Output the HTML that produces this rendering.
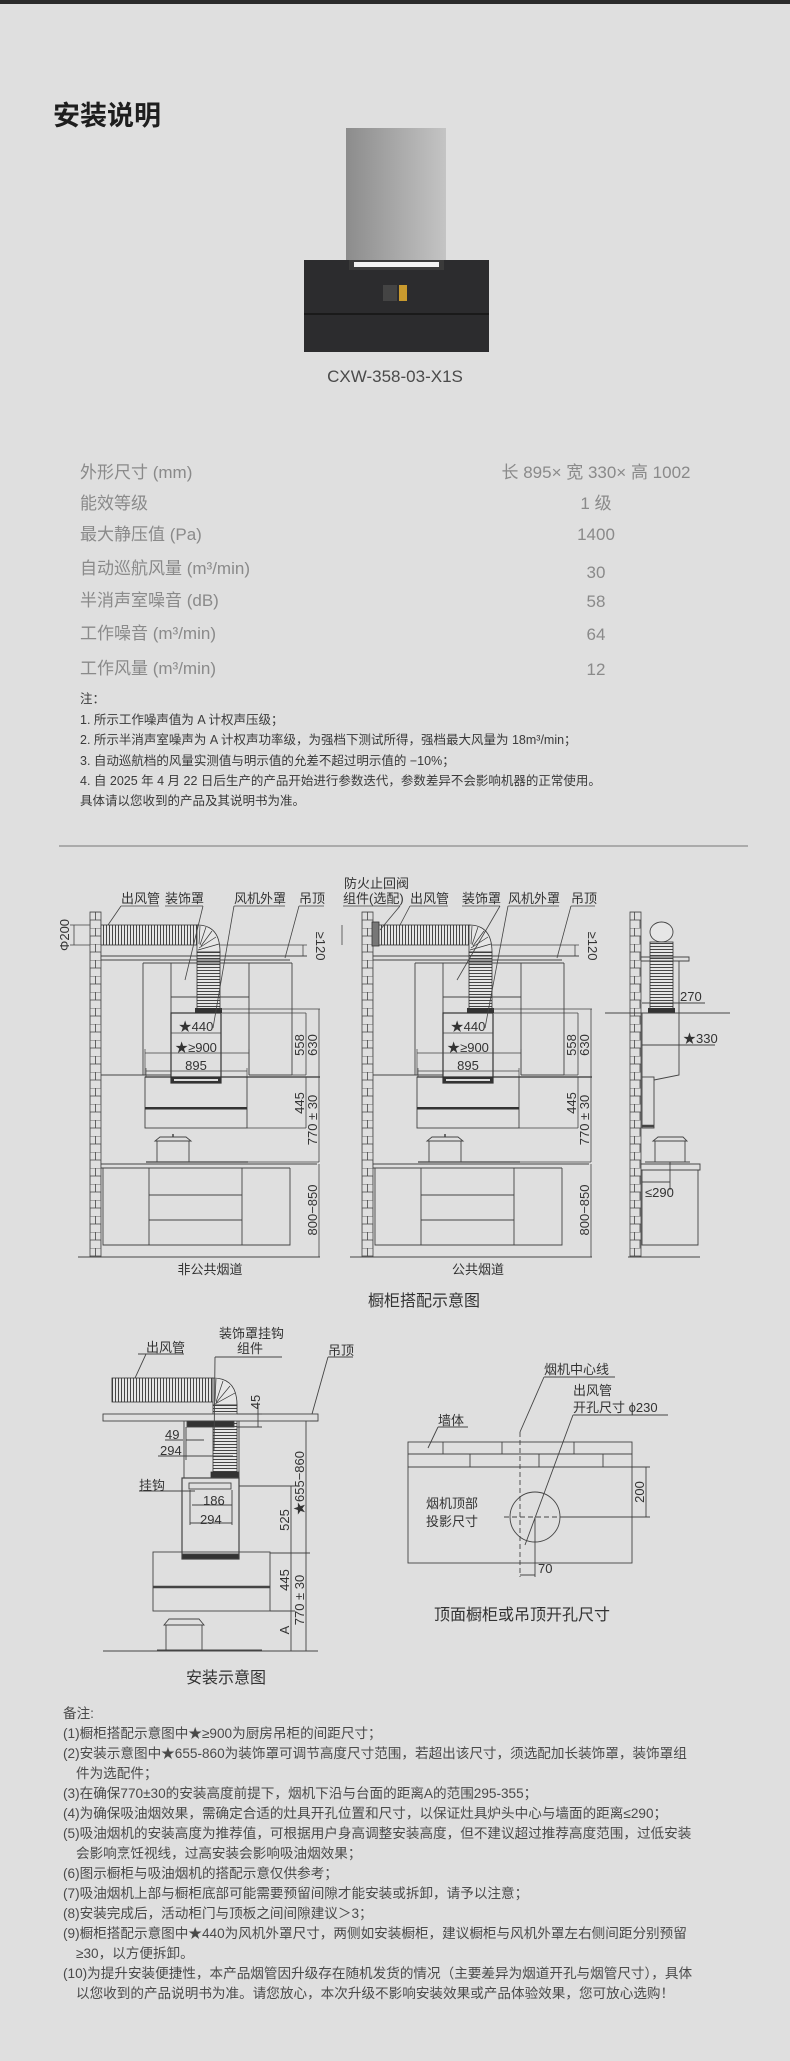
<!DOCTYPE html>
<html><head><meta charset="utf-8">
<style>
html,body{margin:0;padding:0;background:#dfdfdf;}
body{width:790px;height:2061px;position:relative;overflow:hidden;font-family:"Liberation Sans","Noto Sans CJK SC",sans-serif;}
svg{position:absolute;left:0;top:0;}
text{font-family:"Liberation Sans","Noto Sans CJK SC",sans-serif;}
</style></head><body>
<svg width="790" height="2061" viewBox="0 0 790 2061" xmlns="http://www.w3.org/2000/svg">
<defs>
<pattern id="brick" x="90" y="912" width="11" height="16" patternUnits="userSpaceOnUse">
<rect width="11" height="16" fill="#dfdfdf"/>
<path d="M0 0H11M0 8H11M5.5 0V8M0 8V16M11 8V16" stroke="#444" stroke-width="0.8" fill="none"/>
</pattern>
<pattern id="corrV" width="3" height="10" patternUnits="userSpaceOnUse">
<rect width="3" height="10" fill="#e6e6e6"/><path d="M1.5 0V10" stroke="#333" stroke-width="0.9"/>
</pattern>
<pattern id="corrH" width="10" height="3" patternUnits="userSpaceOnUse">
<rect width="10" height="3" fill="#e6e6e6"/><path d="M0 1.5H10" stroke="#333" stroke-width="0.9"/>
</pattern>
<linearGradient id="steel" x1="0" x2="1" y1="0" y2="0">
<stop offset="0" stop-color="#8c8c8c"/><stop offset="0.5" stop-color="#a8a8a8"/><stop offset="1" stop-color="#c4c4c4"/>
</linearGradient>
<g id="cab">
<!-- wall -->
<rect x="90" y="912" width="11" height="345" fill="url(#brick)" stroke="#444" stroke-width="0.8"/>
<!-- duct -->
<rect x="101" y="925" width="97" height="20" fill="url(#corrV)" stroke="#333" stroke-width="0.8"/>
<path d="M197 925 Q220 925 220 952 L197 952 Q197 945 197 945 Z" fill="#e6e6e6" stroke="#333" stroke-width="0.8"/>
<path d="M200 926L199 944M206 927L200 945M212 931L201 946M216 937L199 948M219 944L198 950" stroke="#333" stroke-width="0.7"/>
<rect x="197" y="952" width="23" height="57" fill="url(#corrH)" stroke="#333" stroke-width="0.8"/>
<rect x="195" y="1008" width="27" height="5" fill="#333"/>
<!-- ceiling -->
<path d="M101 956H307M101 960H290" stroke="#444" stroke-width="0.9"/>
<!-- upper cabinets -->
<path d="M143 963H292M143 963V1075M171 963V1075M249 963V1075M292 963V1075M171 997H249M101 1075H171M249 1075H292" stroke="#444" stroke-width="0.9" fill="none"/>
<!-- fan box -->
<rect x="171" y="1013" width="50" height="70" fill="#dfdfdf" stroke="#333" stroke-width="1.2"/>
<rect x="171" y="1077" width="50" height="6" fill="#333"/>
<rect x="174" y="1079" width="44" height="2" fill="#ddd"/>
<!-- hood -->
<rect x="145" y="1077" width="102" height="51" fill="none" stroke="#444" stroke-width="0.9"/>
<path d="M145 1077H320" stroke="#333" stroke-width="1.2"/>
<rect x="145" y="1107" width="102" height="2.5" fill="#333"/>
<!-- pot -->
<rect x="157" y="1141" width="32" height="21" fill="none" stroke="#444" stroke-width="0.9"/>
<path d="M155 1141H191L186 1137H160Z" fill="none" stroke="#444" stroke-width="0.9"/>
<path d="M173 1137V1134" stroke="#444" stroke-width="1.5"/>
<path d="M146 1162H248" stroke="#444" stroke-width="1.2"/>
<!-- counter & base -->
<path d="M101 1164H317M101 1168H290" stroke="#444" stroke-width="0.9"/>
<path d="M103 1168V1245H290V1168M149 1168V1245M242 1168V1245M149 1195H242M149 1220H242" stroke="#444" stroke-width="0.9" fill="none"/>
<path d="M78 1257H320" stroke="#444" stroke-width="0.9"/>
<!-- dims -->
<path d="M220 1009H320M222 1013H306M292 1075H306" stroke="#444" stroke-width="0.7"/>
<path d="M306 1013V1075M319 1009V1077M306 1077V1128M319 1077V1162M319 1164V1257M247 1128H306M190 1162H319" stroke="#444" stroke-width="0.8"/>
<path d="M303 945V956" stroke="#444" stroke-width="0.8"/>
<path d="M220 945H307" stroke="#444" stroke-width="0.7"/>
<path d="M171 1033H221M145 1053H249M146 1071H247" stroke="#444" stroke-width="0.8"/>
<path d="M145 1049V1075M249 1049V1075M146 1068V1077M247 1068V1077" stroke="#444" stroke-width="0.7"/>
</g>
</defs>

<!-- top bar -->
<rect x="0" y="0" width="790" height="4" fill="#2b2b2b"/>
<text x="53" y="125" font-size="27" font-weight="bold" fill="#1e1e1e">安装说明</text>

<!-- product -->
<rect x="346" y="128" width="100" height="132" fill="url(#steel)"/>
<rect x="304" y="260" width="185" height="92" fill="#2c2c2e"/>
<rect x="349" y="260" width="95" height="10" fill="#3a3a3a"/>
<rect x="354" y="262" width="85" height="5" fill="#f2f2f2"/>
<rect x="304" y="313" width="185" height="2" fill="#1a1a1a"/>
<rect x="383" y="285" width="14" height="16" fill="#444"/>
<rect x="399" y="285" width="8" height="16" fill="#c99a2e"/>
<text x="395" y="382" font-size="17" fill="#4a4a4a" text-anchor="middle">CXW-358-03-X1S</text>

<!-- specs -->
<g font-size="17" fill="#8a8a8a">
<text x="80" y="478">外形尺寸 (mm)</text>
<text x="596" y="478" text-anchor="middle">长 895× 宽 330× 高 1002</text>
<text x="80" y="509">能效等级</text><text x="596" y="509" text-anchor="middle">1 级</text>
<text x="80" y="540">最大静压值 (Pa)</text><text x="596" y="540" text-anchor="middle">1400</text>
<text x="80" y="574">自动巡航风量 (m³/min)</text><text x="596" y="578" text-anchor="middle">30</text>
<text x="80" y="606">半消声室噪音 (dB)</text><text x="596" y="607" text-anchor="middle">58</text>
<text x="80" y="639">工作噪音 (m³/min)</text><text x="596" y="640" text-anchor="middle">64</text>
<text x="80" y="674">工作风量 (m³/min)</text><text x="596" y="675" text-anchor="middle">12</text>
</g>
<g font-size="12.5" fill="#3a3a3a">
<text x="80" y="703">注：</text>
<text x="80" y="724">1. 所示工作噪声值为 A 计权声压级；</text>
<text x="80" y="744">2. 所示半消声室噪声为 A 计权声功率级，为强档下测试所得，强档最大风量为 18m³/min；</text>
<text x="80" y="765">3. 自动巡航档的风量实测值与明示值的允差不超过明示值的 −10%；</text>
<text x="80" y="785">4. 自 2025 年 4 月 22 日后生产的产品开始进行参数迭代，参数差异不会影响机器的正常使用。</text>
<text x="80" y="805">具体请以您收到的产品及其说明书为准。</text>
</g>
<path d="M59 846H748" stroke="#777" stroke-width="1"/>

<!-- cabinet diagrams -->
<use href="#cab"/>
<use href="#cab" transform="translate(272,0)"/>
<rect x="372" y="922" width="7" height="24" fill="#777" stroke="#333" stroke-width="0.8"/>

<g font-size="13" fill="#333">
<text x="121" y="903">出风管</text><text x="165" y="903">装饰罩</text><text x="234" y="903">风机外罩</text><text x="299" y="903">吊顶</text>
<text x="344" y="888">防火止回阀</text><text x="343" y="903">组件(选配)</text>
<text x="410" y="903">出风管</text><text x="462" y="903">装饰罩</text><text x="508" y="903">风机外罩</text><text x="571" y="903">吊顶</text>
</g>
<g stroke="#444" stroke-width="0.8" fill="none">
<path d="M121 906H159M121 906L108 925M165 906H203M203 906L185 980M234 906H285M234 906L213 1028M299 906H324M299 906L285 958"/>
<path d="M343 906H400M400 906L380 930M410 906H448M410 906L400 925M462 906H500M500 906L457 980M508 906H559M508 906L485 1028M571 906H595M571 906L557 958"/>
<path d="M74 925V945M70 925H90M70 945H90"/>
<path d="M342 925V945"/>
</g>
<g font-size="13" fill="#333">
<text transform="translate(69,935) rotate(-90)" text-anchor="middle">Φ200</text>
<text transform="translate(316,946) rotate(90)" text-anchor="middle">≥120</text>
<text transform="translate(588,946) rotate(90)" text-anchor="middle">≥120</text>
<text x="196" y="1031" text-anchor="middle">★440</text>
<text x="196" y="1052" text-anchor="middle">★≥900</text>
<text x="196" y="1070" text-anchor="middle">895</text>
<text x="468" y="1031" text-anchor="middle">★440</text>
<text x="468" y="1052" text-anchor="middle">★≥900</text>
<text x="468" y="1070" text-anchor="middle">895</text>
<g text-anchor="middle">
<text transform="translate(304,1045) rotate(-90)">558</text>
<text transform="translate(317,1045) rotate(-90)">630</text>
<text transform="translate(304,1103) rotate(-90)">445</text>
<text transform="translate(317,1120) rotate(-90)">770 ± 30</text>
<text transform="translate(317,1210) rotate(-90)">800−850</text>
<text transform="translate(576,1045) rotate(-90)">558</text>
<text transform="translate(589,1045) rotate(-90)">630</text>
<text transform="translate(576,1103) rotate(-90)">445</text>
<text transform="translate(589,1120) rotate(-90)">770 ± 30</text>
<text transform="translate(589,1210) rotate(-90)">800−850</text>
</g>
<text x="210" y="1274" text-anchor="middle">非公共烟道</text>
<text x="478" y="1274" text-anchor="middle">公共烟道</text>
</g>

<!-- side view -->
<rect x="630" y="912" width="11" height="345" fill="url(#brick)" stroke="#444" stroke-width="0.8"/>
<g stroke="#444" stroke-width="0.9" fill="none">
<ellipse cx="661.5" cy="932" rx="11.5" ry="10" fill="#e6e6e6"/>
</g>
<rect x="650" y="942" width="23" height="67" fill="url(#corrH)" stroke="#333" stroke-width="0.8"/>
<rect x="648" y="1008" width="27" height="5" fill="#333"/>
<g stroke="#444" stroke-width="0.9" fill="none">
<path d="M641 957H689V961H641M679 961V1013M605 1013H730"/>
<path d="M642 1013H679V1075L654 1080M642 1013V1077"/>
<rect x="642" y="1077" width="12" height="51"/>
<path d="M642 1126H654" stroke-width="2.5"/>
<rect x="655" y="1141" width="30" height="21"/>
<path d="M653 1141H687L683 1137H658Z"/>
<path d="M645 1162H690M641 1164H700V1170H641M642 1170V1245H698V1170M628 1257H700"/>
<path d="M642 1003H673M642 1045H679M642 1182H670M670 1162V1190M673 1003H705M679 1045H715"/>
</g>
<g font-size="13" fill="#333">
<text x="680" y="1001">270</text>
<text x="683" y="1043">★330</text>
<text x="645" y="1197">≤290</text>
</g>

<text x="424" y="1306" font-size="16" fill="#333" text-anchor="middle">橱柜搭配示意图</text>

<!-- install diagram -->
<g stroke="#333" stroke-width="0.8">
<rect x="112" y="1378" width="101" height="24" fill="url(#corrV)"/>
<path d="M213 1378 Q237 1378 237 1405 L213 1405 L213 1402 Z" fill="#e6e6e6"/>
<path d="M216 1379L215 1401M223 1381L216 1402M230 1386L216 1403M235 1393L215 1404" stroke-width="0.7"/>
<rect x="213" y="1405" width="24" height="68" fill="url(#corrH)"/>
<rect x="211" y="1472" width="28" height="6" fill="#333"/>
</g>
<g stroke="#444" stroke-width="0.9" fill="none">
<rect x="103" y="1414" width="215" height="7" fill="#dfdfdf"/>
<rect x="187" y="1421" width="47" height="6" fill="#333"/>
<path d="M184 1421V1478M239 1421V1478"/>
<rect x="182" y="1478" width="57" height="81" stroke-width="1.2"/>
<rect x="182" y="1554" width="57" height="5" fill="#333"/>
<rect x="189" y="1483" width="42" height="6"/>
<rect x="153" y="1552" width="117" height="59"/>
<path d="M153 1587H270" stroke-width="2.5"/>
<rect x="166" y="1625" width="36" height="25"/>
<path d="M164 1625H204L199 1619H169Z"/>
<path d="M157 1650H262M103 1651H318"/>
<!-- dims -->
<path d="M306 1421V1651M291 1486V1553M291 1553V1611M291 1611V1651M239 1486H295M270 1553H310M270 1611H295M318 1421H310M258 1405V1427M237 1414H262M237 1427H262"/>
<path d="M186 1440H204M158 1456H233M192 1505H232M190 1523H232M190 1490V1525M232 1490V1525M186 1427V1460"/>
<path d="M138 1354H184M146 1354L135 1378M215 1357H282M215 1357L214 1450M328 1357H353M328 1357L312 1414M139 1491H164M164 1491H195"/>
<path d="M165 1440H183M158 1456H180"/>
</g>
<g font-size="13" fill="#333">
<text x="219" y="1338">装饰罩挂钩</text>
<text x="237" y="1353">组件</text>
<text x="146" y="1352">出风管</text>
<text x="328" y="1355">吊顶</text>
<text x="139" y="1490">挂钩</text>
<text x="165" y="1439">49</text>
<text x="160" y="1455">294</text>
<text x="203" y="1505">186</text>
<text x="200" y="1524">294</text>
<g text-anchor="middle">
<text transform="translate(260,1402) rotate(-90)">45</text>
<text transform="translate(289,1520) rotate(-90)">525</text>
<text transform="translate(304,1483) rotate(-90)">★655−860</text>
<text transform="translate(289,1580) rotate(-90)">445</text>
<text transform="translate(304,1600) rotate(-90)">770 ± 30</text>
<text transform="translate(289,1630) rotate(-90)">A</text>
</g>
</g>
<text x="226" y="1683" font-size="16" fill="#333" text-anchor="middle">安装示意图</text>

<!-- top view -->
<g stroke="#444" stroke-width="0.9" fill="none">
<rect x="408" y="1442" width="224" height="25"/>
<path d="M408 1454H632M443 1442V1454M502 1442V1454M574 1442V1454M470 1454V1467M539 1454V1467M603 1454V1467"/>
<rect x="408" y="1467" width="224" height="96"/>
<circle cx="535" cy="1517" r="25"/>
<path d="M520 1432V1577M504 1517H562" stroke-dasharray="5,3"/>
<path d="M562 1517H650M632 1467H650M646 1467V1517M535 1517V1577M520 1575H535"/>
<path d="M544 1377H615M544 1377L520 1432M573 1415H668M573 1415L525 1545M438 1427H468M438 1427L428 1448"/>
</g>
<g font-size="13" fill="#333">
<text x="544" y="1374">烟机中心线</text>
<text x="573" y="1395">出风管</text>
<text x="573" y="1412">开孔尺寸 ϕ230</text>
<text x="438" y="1425">墙体</text>
<text x="426" y="1508">烟机顶部</text>
<text x="426" y="1526">投影尺寸</text>
<text x="538" y="1573">70</text>
<text transform="translate(644,1492) rotate(-90)" text-anchor="middle">200</text>
</g>
<text x="522" y="1620" font-size="16" fill="#333" text-anchor="middle">顶面橱柜或吊顶开孔尺寸</text>

<!-- remarks -->
<g font-size="13.6" fill="#4a4a4a">
<text x="63" y="1718">备注:</text>
<text x="63" y="1738">(1)橱柜搭配示意图中★≥900为厨房吊柜的间距尺寸；</text>
<text x="63" y="1758">(2)安装示意图中★655-860为装饰罩可调节高度尺寸范围，若超出该尺寸，须选配加长装饰罩，装饰罩组</text>
<text x="76" y="1778">件为选配件；</text>
<text x="63" y="1798">(3)在确保770±30的安装高度前提下，烟机下沿与台面的距离A的范围295-355；</text>
<text x="63" y="1818">(4)为确保吸油烟效果，需确定合适的灶具开孔位置和尺寸，以保证灶具炉头中心与墙面的距离≤290；</text>
<text x="63" y="1838">(5)吸油烟机的安装高度为推荐值，可根据用户身高调整安装高度，但不建议超过推荐高度范围，过低安装</text>
<text x="76" y="1858">会影响烹饪视线，过高安装会影响吸油烟效果；</text>
<text x="63" y="1878">(6)图示橱柜与吸油烟机的搭配示意仅供参考；</text>
<text x="63" y="1898">(7)吸油烟机上部与橱柜底部可能需要预留间隙才能安装或拆卸，请予以注意；</text>
<text x="63" y="1918">(8)安装完成后，活动柜门与顶板之间间隙建议＞3；</text>
<text x="63" y="1938">(9)橱柜搭配示意图中★440为风机外罩尺寸，两侧如安装橱柜，建议橱柜与风机外罩左右侧间距分别预留</text>
<text x="76" y="1958">≥30，以方便拆卸。</text>
<text x="63" y="1978">(10)为提升安装便捷性，本产品烟管因升级存在随机发货的情况（主要差异为烟道开孔与烟管尺寸），具体</text>
<text x="76" y="1998">以您收到的产品说明书为准。请您放心，本次升级不影响安装效果或产品体验效果，您可放心选购！</text>
</g>
</svg>
</body></html>
